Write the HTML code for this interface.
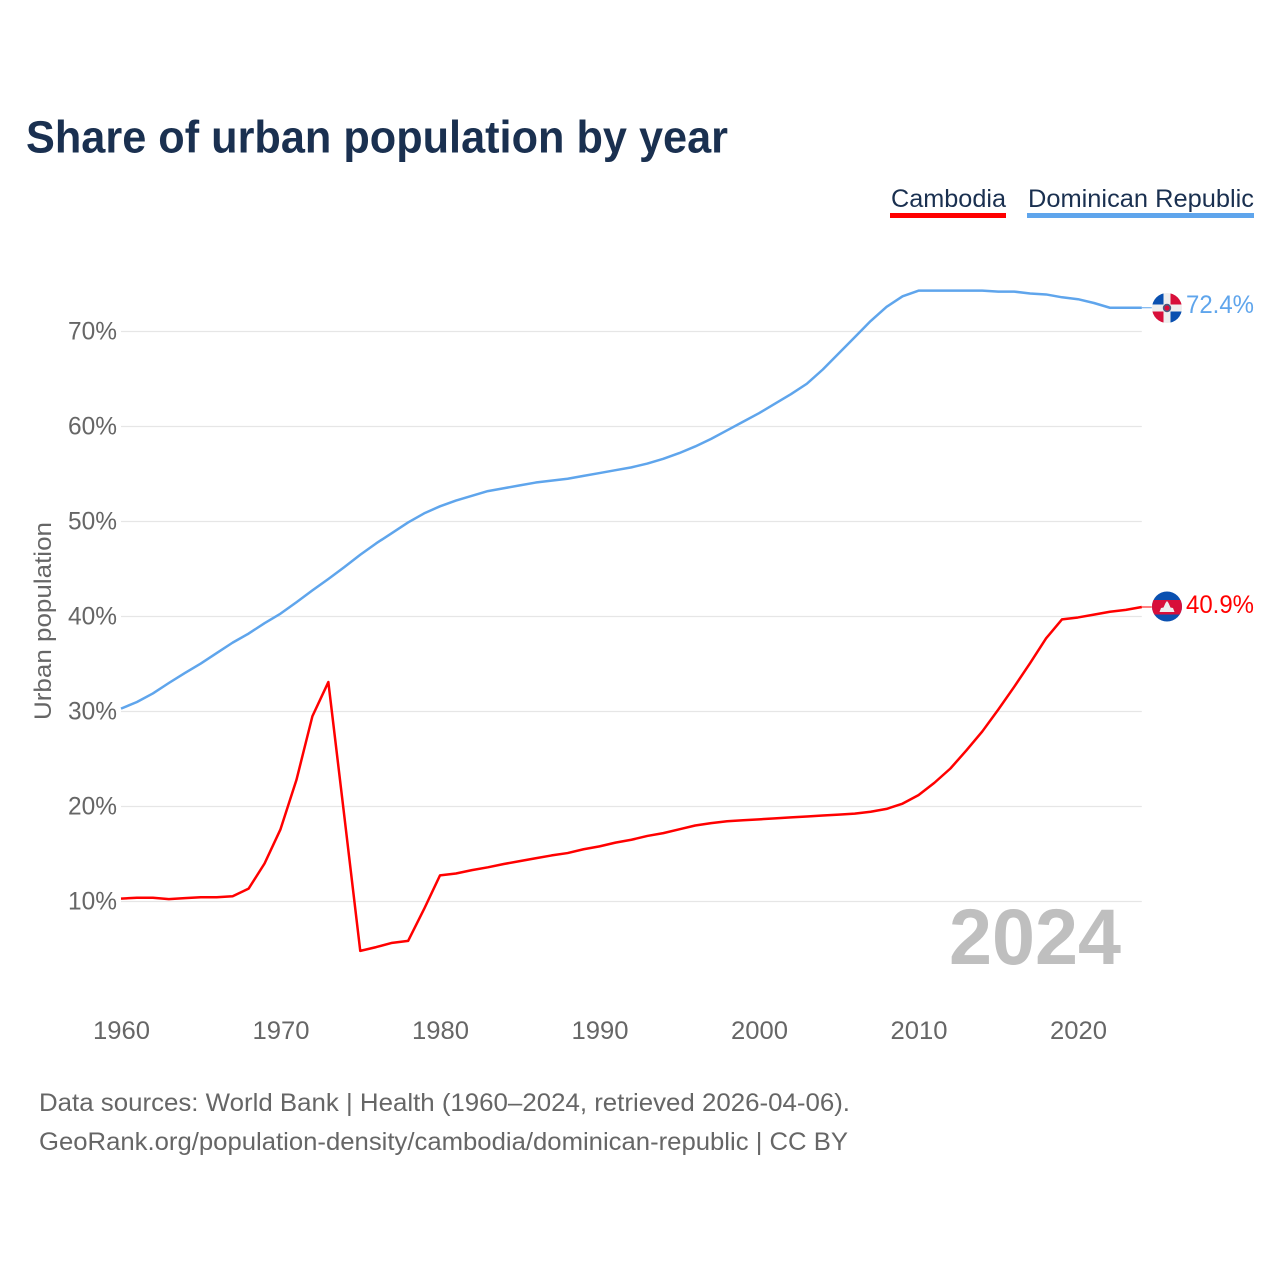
<!DOCTYPE html>
<html lang="en">
<head>
<meta charset="utf-8">
<title>Share of urban population by year</title>
<style>
html,body{margin:0;padding:0;background:#fff;}
svg{display:block;font-family:"Liberation Sans",sans-serif;}
</style>
</head>
<body>
<svg id="chart" width="1280" height="1280" viewBox="0 0 1280 1280" xmlns="http://www.w3.org/2000/svg">
  <defs>
    <clipPath id="clip-do"><circle cx="1167" cy="308" r="15"/></clipPath>
    <clipPath id="clip-kh"><circle cx="1167" cy="606.5" r="15"/></clipPath>
  </defs>
  <rect width="1280" height="1280" fill="#fff"/>
  <text x="26" y="152.5" font-size="45" font-weight="700" fill="#1a3050" textLength="702" lengthAdjust="spacingAndGlyphs">Share of urban population by year</text>

  <text x="891" y="207" font-size="25" fill="#1a3050" textLength="115" lengthAdjust="spacingAndGlyphs">Cambodia</text>
  <rect x="890" y="213" width="116" height="5" fill="#ff0000"/>
  <text x="1028" y="207" font-size="25" fill="#1a3050" textLength="226" lengthAdjust="spacingAndGlyphs">Dominican Republic</text>
  <rect x="1027" y="213" width="227" height="5" fill="#5fa5ec"/>

  <g id="grid"></g>
  <g id="y-ticks"></g>
  <g id="x-ticks"></g>
  <text transform="translate(51 720) rotate(-90)" x="0" y="0" font-size="24" fill="#666" textLength="198" lengthAdjust="spacingAndGlyphs">Urban population</text>

  <text x="949" y="964" font-size="79" font-weight="700" fill="#bfbfbf" textLength="172" lengthAdjust="spacingAndGlyphs">2024</text>

  <g id="series"></g>

  <g clip-path="url(#clip-do)">
    <rect x="1152" y="293" width="30" height="30" fill="#eeeeee"/>
    <rect x="1152" y="293" width="11.5" height="11.5" fill="#0a50b0"/>
    <rect x="1170.5" y="293" width="11.5" height="11.5" fill="#d80f3a"/>
    <rect x="1152" y="311.5" width="11.5" height="11.5" fill="#d80f3a"/>
    <rect x="1170.5" y="311.5" width="11.5" height="11.5" fill="#0a50b0"/>
    <circle cx="1167" cy="308" r="4.2" fill="#4a5a80"/>
    <circle cx="1167" cy="308" r="2.6" fill="#d80f3a"/>
  </g>
  <text x="1186" y="313" font-size="25" fill="#5fa5ec" textLength="68" lengthAdjust="spacingAndGlyphs">72.4%</text>

  <g clip-path="url(#clip-kh)">
    <rect x="1152" y="591" width="30" height="31" fill="#0a50b0"/>
    <rect x="1152" y="600" width="30" height="14.5" fill="#d80f3a"/>
    <polygon points="1159.5,612 1161,608 1163.5,607.5 1165.5,603 1167,601 1168.5,603 1170.5,607.5 1173,608 1174.5,612" fill="#eeeeee"/>
  </g>
  <text x="1186" y="613" font-size="25" fill="#ff0000" textLength="68" lengthAdjust="spacingAndGlyphs">40.9%</text>

  <text x="39" y="1111" font-size="25" fill="#666" textLength="811" lengthAdjust="spacingAndGlyphs">Data sources: World Bank | Health (1960–2024, retrieved 2026-04-06).</text>
  <text x="39" y="1150" font-size="25" fill="#666" textLength="809" lengthAdjust="spacingAndGlyphs">GeoRank.org/population-density/cambodia/dominican-republic | CC BY</text>
</svg>
<script>
const startYear = 1960;
const xTickYears = [1960, 1970, 1980, 1990, 2000, 2010, 2020];
const yTickValues = [10, 20, 30, 40, 50, 60, 70];
const cambodiaValues = [
  10.3, 10.4, 10.4, 10.25, 10.35, 10.45, 10.45, 10.55, 11.35, 14.0,
  17.6, 22.8, 29.5, 33.1, 19.0, 4.8, 5.2, 5.65, 5.85, 9.2,
  12.75, 12.95, 13.3, 13.6, 13.95, 14.25, 14.55, 14.85, 15.1, 15.5,
  15.8, 16.2, 16.5, 16.9, 17.2, 17.6, 18.0, 18.25, 18.45, 18.55,
  18.65, 18.75, 18.85, 18.95, 19.05, 19.15, 19.25, 19.45, 19.75, 20.3,
  21.2, 22.5, 24.0, 25.9, 27.9, 30.2, 32.6, 35.1, 37.7, 39.7,
  39.9, 40.2, 40.5, 40.7, 41.0
];
const dominicanValues = [
  30.3, 31.0, 31.9, 33.0, 34.05, 35.05, 36.15, 37.25, 38.2, 39.3,
  40.3, 41.5, 42.75, 43.95, 45.2, 46.5, 47.7, 48.8, 49.9, 50.85,
  51.6, 52.2, 52.7, 53.2, 53.5, 53.8, 54.1, 54.3, 54.5, 54.8,
  55.1, 55.4, 55.7, 56.1, 56.6, 57.2, 57.9, 58.7, 59.6, 60.5,
  61.4, 62.4, 63.4, 64.5, 66.0, 67.7, 69.4, 71.1, 72.6, 73.7,
  74.3, 74.3, 74.3, 74.3, 74.3, 74.2, 74.2, 74.0, 73.9, 73.6,
  73.4, 73.0, 72.5, 72.5, 72.5
];

const NS = 'http://www.w3.org/2000/svg';
function xScale(year) { return 121 + (year - 1960) * 15.95; }
function yScale(value) { return 901.5 - (value - 10) * 9.5; }

const gridGroup = document.getElementById('grid');
const yTickGroup = document.getElementById('y-ticks');
const xTickGroup = document.getElementById('x-ticks');
const seriesGroup = document.getElementById('series');

yTickValues.forEach(function (value) {
  const line = document.createElementNS(NS, 'line');
  
  
  line.setAttribute('x1', xScale(1960));
  line.setAttribute('x2', xScale(2024));
  line.setAttribute('y1', yScale(value));
  line.setAttribute('y2', yScale(value));
  line.setAttribute('stroke', '#e6e6e6');
  line.setAttribute('stroke-width', '1.3');
  gridGroup.appendChild(line);

  const label = document.createElementNS(NS, 'text');
  
  
  label.setAttribute('x', 68);
  label.setAttribute('y', yScale(value) + 8);
  label.setAttribute('font-size', '25');
  label.setAttribute('fill', '#666');
  label.setAttribute('textLength', '49');
  label.setAttribute('lengthAdjust', 'spacingAndGlyphs');
  label.textContent = value + '%';
  yTickGroup.appendChild(label);
});

xTickYears.forEach(function (year) {
  const label = document.createElementNS(NS, 'text');
  
  
  label.setAttribute('x', xScale(year) - 28);
  label.setAttribute('y', 1039);
  label.setAttribute('font-size', '25');
  label.setAttribute('fill', '#666');
  label.setAttribute('textLength', '57');
  label.setAttribute('lengthAdjust', 'spacingAndGlyphs');
  label.textContent = year;
  xTickGroup.appendChild(label);
});

function pointsFor(values) {
  return values.map(function (value, index) {
    return xScale(startYear + index).toFixed(2) + ',' + yScale(value).toFixed(2);
  }).join(' ');
}

function connectorFor(values, color, name) {
  const last = values[values.length - 1];
  const connector = document.createElementNS(NS, 'line');
  
  
  connector.setAttribute('x1', xScale(2024));
  connector.setAttribute('x2', xScale(2024) + 10);
  connector.setAttribute('y1', yScale(last));
  connector.setAttribute('y2', yScale(last));
  connector.setAttribute('stroke', color);
  connector.setAttribute('stroke-width', '1');
  seriesGroup.appendChild(connector);
}

const cambodiaLine = document.createElementNS(NS, 'polyline');


cambodiaLine.setAttribute('points', pointsFor(cambodiaValues));
cambodiaLine.setAttribute('fill', 'none');
cambodiaLine.setAttribute('stroke', '#ff0000');
cambodiaLine.setAttribute('stroke-width', '2.5');
cambodiaLine.setAttribute('stroke-linejoin', 'round');
seriesGroup.appendChild(cambodiaLine);

const dominicanLine = document.createElementNS(NS, 'polyline');


dominicanLine.setAttribute('points', pointsFor(dominicanValues));
dominicanLine.setAttribute('fill', 'none');
dominicanLine.setAttribute('stroke', '#5fa5ec');
dominicanLine.setAttribute('stroke-width', '2.5');
dominicanLine.setAttribute('stroke-linejoin', 'round');
seriesGroup.appendChild(dominicanLine);

connectorFor(cambodiaValues, '#ff0000', 'connector-cambodia');
connectorFor(dominicanValues, '#5fa5ec', 'connector-dominican-republic');
</script>
</body>
</html>
